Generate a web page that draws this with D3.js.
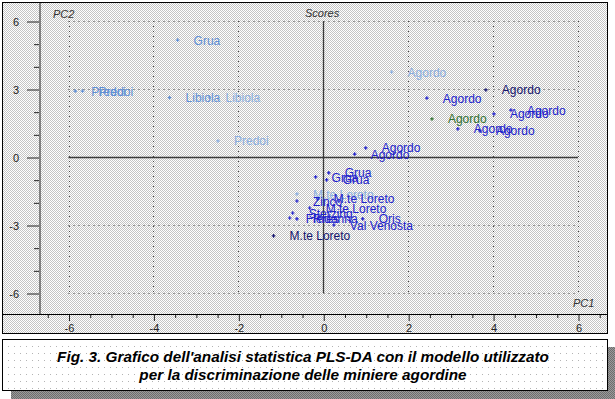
<!DOCTYPE html>
<html>
<head>
<meta charset="utf-8">
<script src="https://cdn.jsdelivr.net/npm/d3@7"></script>
<style>
body { margin: 0; background: #fff; }
svg text { font-family: "Liberation Sans", Arial, sans-serif; }
</style>
</head>
<body>
<div id="chart"></div>
<script>
"use strict";

// sample labels, PC1 / PC2 scores and colour group
var sample = ["Grua", "Predoi", "Predoi", "Libiola",
    "Libiola", "Predoi", "Agordo", "M.te Loreto",
    "Agordo", "Agordo", "Agordo", "Agordo", "Agordo", "Agordo", "Agordo",
    "Grua", "Grua", "Grua",
    "Zinco", "M.te Loreto", "M.te Loreto", "Sterzing", "Fleres", "Ridanna", "Val Venosta", "Oris",
    "Agordo", "M.te Loreto",
    "Agordo"];
var pc1 = [-3.43, -5.84, -5.67, -3.62,
    -2.68, -2.48, 1.61, -0.62,
    2.44, 3.17, 3.69, 4.02, 4.42, 0.74, 1.0,
    0.13, -0.18, 0.08,
    -0.62, -0.13, -0.32, -0.72, -0.79, -0.62, 0.25, 0.93,
    3.83, -1.17,
    2.56];
var pc2 = [5.16, 2.91, 2.91, 2.62,
    2.64, 0.71, 3.75, -1.63,
    2.6, 1.24, 1.15, 1.9, 2.07, 0.13, 0.4,
    -0.7, -0.88, -1.01,
    -1.94, -1.85, -2.25, -2.47, -2.69, -2.73, -3.0, -2.73,
    2.96, -3.48,
    1.68];
var group = ["a", "a", "a", "a",
    "b", "b", "b", "b",
    "c", "c", "c", "c", "c", "c", "c",
    "c", "c", "c",
    "c", "c", "c", "c", "c", "c", "c", "c",
    "d", "d",
    "e"];

var groups = ["a", "b", "c", "d", "e"];
var groupColors = ["#5f8fd6", "#8aaee0", "#2020cc", "#14146e", "#2f6f2f"];

var xMajor = [-6, -4, -2, 0, 2, 4, 6];
var yMajor = [-6, -3, 0, 3, 6];
var xMinor = [-6.5, -5.5, -5, -4.5, -3.5, -3, -2.5, -1.5, -1, -0.5, 0.5, 1, 1.5, 2.5, 3, 3.5, 4.5, 5, 5.5, 6.5];
var yMinor = [-5, -4, -2, -1, 1, 2, 4, 5];

var captionLines = ["Fig. 3. Grafico dell'analisi statistica PLS-DA con il modello utilizzato",
    "per la discriminazione delle miniere agordine"];

var data = sample.map(function(s, i) {
    return {name: s, pc1: pc1[i], pc2: pc2[i], group: group[i]};
});

var W = 615, H = 399;
var x = d3.scaleLinear().domain([-6, 6]).range([68.5, 578]),
    y = d3.scaleLinear().domain([-6, 6]).range([293, 21]),
    color = d3.scaleOrdinal().domain(groups).range(groupColors);

var svg = d3.select("#chart")
    .append("svg")
    .attr("width", W)
    .attr("height", H);

var defs = svg.append("defs");
function checker(id, a, b) {
    var p = defs.append("pattern").attr("id", id)
        .attr("width", 2).attr("height", 2)
        .attr("patternUnits", "userSpaceOnUse");
    p.append("rect").attr("width", 2).attr("height", 2).attr("fill", a);
    p.append("rect").attr("width", 1).attr("height", 1).attr("fill", b);
    p.append("rect").attr("x", 1).attr("y", 1).attr("width", 1).attr("height", 1).attr("fill", b);
}
checker("dither", "#ffffff", "#c4c4c4");
checker("shade", "#9a9a9a", "#6e6e6e");
var dots = defs.append("pattern").attr("id", "dots")
    .attr("width", 6).attr("height", 7)
    .attr("patternUnits", "userSpaceOnUse");
dots.append("rect").attr("width", 6).attr("height", 7).attr("fill", "#fff");
dots.append("rect").attr("x", 2).attr("y", 3).attr("width", 1).attr("height", 1).attr("fill", "#b4b4b4");

// panel
svg.append("rect")
    .attr("x", 2.5).attr("y", 2.5).attr("width", 605).attr("height", 331)
    .attr("fill", "url(#dither)")
    .attr("stroke", "#000");

// grid
var grid = svg.append("g").attr("stroke", "#444").attr("stroke-dasharray", "1,4");
grid.selectAll(".gx").data(xMajor.filter(d => d !== 0)).enter()
    .append("line")
    .attr("x1", d => Math.round(x(d)) + 0.5).attr("x2", d => Math.round(x(d)) + 0.5)
    .attr("y1", y(6)).attr("y2", y(-6));
grid.selectAll(".gy").data(yMajor.filter(d => d !== 0)).enter()
    .append("line")
    .attr("y1", d => Math.round(y(d)) + 0.5).attr("y2", d => Math.round(y(d)) + 0.5)
    .attr("x1", x(-6)).attr("x2", x(6));

// zero lines
svg.append("line")
    .attr("x1", Math.round(x(0)) + 0.5).attr("x2", Math.round(x(0)) + 0.5)
    .attr("y1", y(6)).attr("y2", y(-6))
    .attr("stroke", "#3a3a3a").attr("stroke-width", 1.3);
svg.append("line")
    .attr("x1", x(-6)).attr("x2", x(6))
    .attr("y1", y(0) + 0.5).attr("y2", y(0) + 0.5)
    .attr("stroke", "#3a3a3a").attr("stroke-width", 1.3);

// y axis
svg.append("line")
    .attr("x1", 40).attr("x2", 40).attr("y1", 3).attr("y2", 314)
    .attr("stroke", "#808080").attr("stroke-width", 2);

var yAxis = svg.append("g")
    .attr("transform", "translate(39,0.5)")
    .call(d3.axisLeft(y).tickValues(yMajor).tickSize(12).tickPadding(8));
var yAxisMinor = svg.append("g")
    .attr("transform", "translate(39,0.5)")
    .call(d3.axisLeft(y).tickValues(yMinor).tickSize(5).tickFormat(""));

// x axis
svg.append("line")
    .attr("x1", 2).attr("x2", 608).attr("y1", 314.5).attr("y2", 314.5)
    .attr("stroke", "#000");
var xAxis = svg.append("g")
    .attr("transform", "translate(0.5,315)")
    .call(d3.axisBottom(x).tickValues(xMajor).tickSize(6).tickPadding(3));
var xAxisMinor = svg.append("g")
    .attr("transform", "translate(0.5,315)")
    .call(d3.axisBottom(x).tickValues(xMinor).tickSize(3).tickFormat(""));

[yAxis, yAxisMinor, xAxis, xAxisMinor].forEach(function(a) {
    a.select(".domain").remove();
    a.selectAll(".tick line").attr("stroke", "#222");
    a.selectAll(".tick text")
        .attr("fill", "#222")
        .style("font-size", "11px")
        .style("font-family", "Liberation Sans, Arial, sans-serif");
});
xAxis.selectAll(".tick text").text(d => d < 0 ? "-" + Math.abs(d) : d);
yAxis.selectAll(".tick text").text(d => d < 0 ? "-" + Math.abs(d) : d);

// corner labels
var corner = svg.append("g").attr("font-style", "italic")
    .attr("font-size", 11).attr("fill", "#333");
corner.append("text").attr("x", 53).attr("y", 18).text("PC2");
corner.append("text").attr("x", 305).attr("y", 17).text("Scores");
corner.append("text").attr("x", 573).attr("y", 307).text("PC1");

// scores
var pts = svg.append("g");
pts.selectAll(".pt")
    .data(data)
    .enter()
    .append("path")
    .attr("class", "pt")
    .attr("d", d3.symbol(d3.symbolCross).size(7))
    .attr("transform", d => "translate(" + x(d.pc1) + "," + y(d.pc2) + ")")
    .attr("fill", d => color(d.group));
pts.selectAll(".lbl")
    .data(data)
    .enter()
    .append("text")
    .attr("class", "lbl")
    .attr("x", d => x(d.pc1) + 16)
    .attr("y", d => y(d.pc2))
    .attr("dy", "0.38em")
    .attr("font-size", 12)
    .attr("fill", d => color(d.group))
    .text(d => d.name);

// caption box with shadow
svg.append("rect")
    .attr("x", 11).attr("y", 347).attr("width", 604).attr("height", 52)
    .attr("fill", "url(#shade)");
svg.append("rect")
    .attr("x", 2.5).attr("y", 339.5).attr("width", 605).attr("height", 51)
    .attr("fill", "url(#dots)")
    .attr("stroke", "#000");
svg.append("g")
    .selectAll("text")
    .data(captionLines)
    .enter()
    .append("text")
    .attr("x", 303)
    .attr("y", (d, i) => 362 + i * 18)
    .attr("text-anchor", "middle")
    .attr("font-size", 15.3)
    .attr("font-weight", "bold")
    .attr("font-style", "italic")
    .attr("fill", "#000")
    .text(d => d);
</script>
</body>
</html>
